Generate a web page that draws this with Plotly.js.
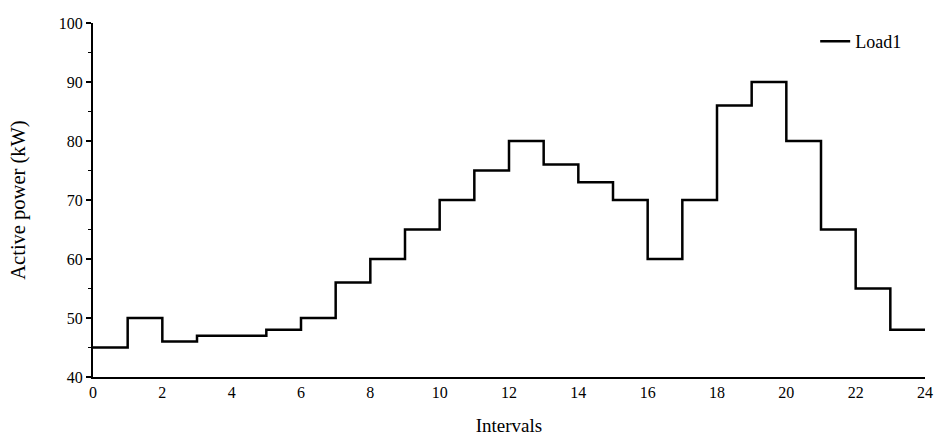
<!DOCTYPE html>
<html>
<head>
<meta charset="utf-8">
<script src="https://cdn.plot.ly/plotly-3.0.1.min.js"></script>
<style>html,body{margin:0;padding:0;background:#fff;}#chart{width:947px;height:444px;}</style>
</head>
<body>
<div id="chart"></div>
<script>
// Interval boundaries 0..24; the final value repeats to close the last step
const intervals = [0,1,2,3,4,5,6,7,8,9,10,11,12,13,14,15,16,17,18,19,20,21,22,23,24];
const load1 = [45,50,46,47,47,48,50,56,60,65,70,75,80,76,73,70,60,70,86,90,80,65,55,48,48];
const xTicks = [0,2,4,6,8,10,12,14,16,18,20,22,24];
const yTicks = [40,50,60,70,80,90,100];

const font = {family: '"Liberation Serif", "Times New Roman", serif', color: '#000'};

Plotly.newPlot('chart', [{
  x: intervals,
  y: load1,
  type: 'scatter',
  mode: 'lines',
  line: {shape: 'hv', color: '#000', width: 2.5},
  name: 'Load1'
}], {
  width: 947, height: 444,
  margin: {l: 93, r: 22, t: 23, b: 67},
  paper_bgcolor: '#fff', plot_bgcolor: '#fff',
  font: Object.assign({size: 16}, font),
  showlegend: true,
  legend: {x: 0.868, y: 1, xanchor: 'left', yanchor: 'top', bgcolor: 'rgba(0,0,0,0)',
           font: Object.assign({size: 18}, font)},
  xaxis: {
    range: [0, 24], tickvals: xTicks, ticktext: xTicks.map(String),
    showgrid: false, zeroline: false, showline: true, linecolor: '#000', linewidth: 2,
    ticks: '', tickfont: Object.assign({size: 16}, font),
    title: {text: 'Intervals', font: Object.assign({size: 19}, font), standoff: 18}
  },
  yaxis: {
    range: [40, 100], tickvals: yTicks, ticktext: yTicks.map(String),
    showgrid: false, zeroline: false, showline: true, linecolor: '#000', linewidth: 2,
    ticks: 'outside', ticklen: 5, tickwidth: 1.5, tickcolor: '#000',
    minor: {dtick: 5, ticks: 'outside', ticklen: 3, tickwidth: 1.5, tickcolor: '#000', showgrid: false},
    tickfont: Object.assign({size: 16}, font),
    title: {text: 'Active power (kW)', font: Object.assign({size: 20.5}, font), standoff: 28}
  }
}, {displayModeBar: false, staticPlot: true});
</script>
</body>
</html>
